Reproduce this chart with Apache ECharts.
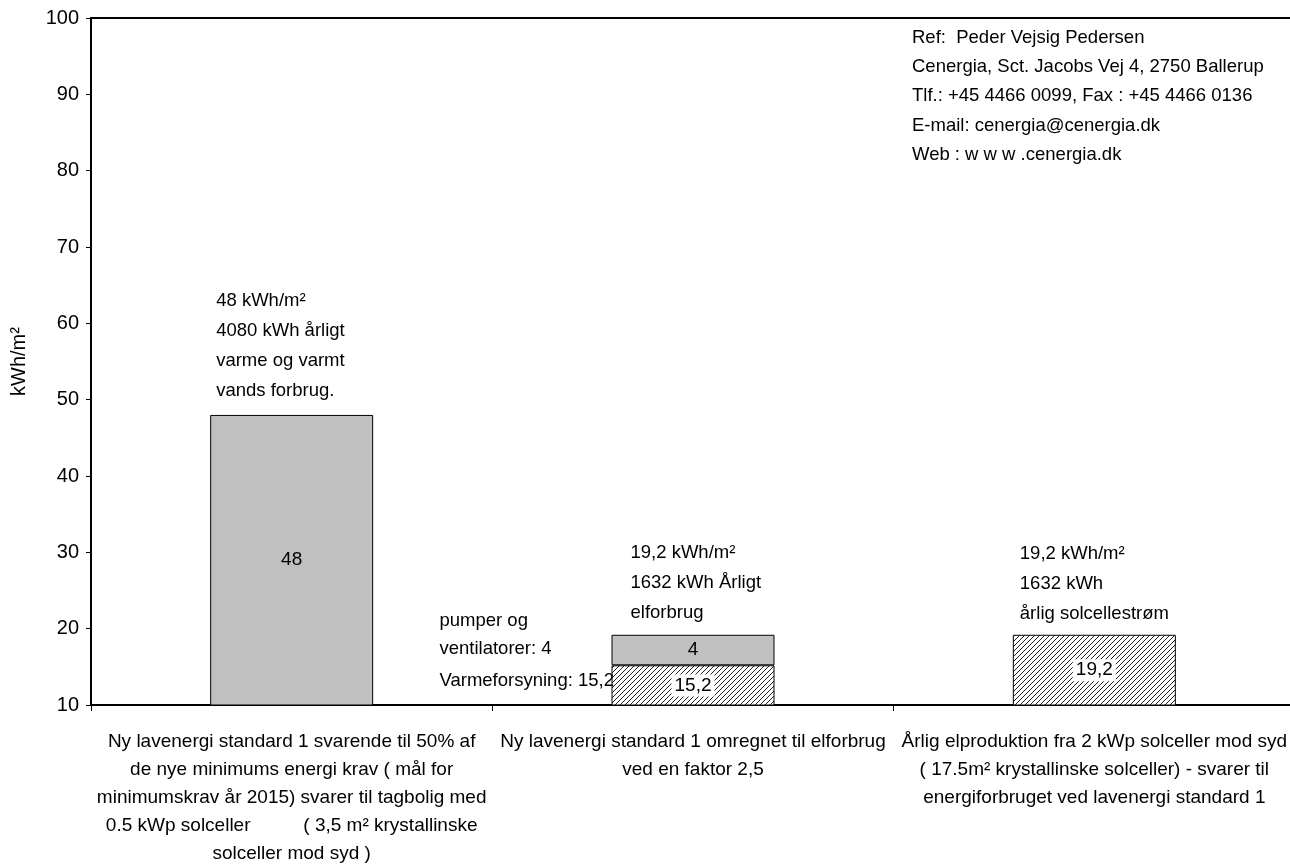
<!DOCTYPE html>
<html>
<head>
<meta charset="utf-8">
<script src="https://cdn.jsdelivr.net/npm/echarts@6/dist/echarts.min.js"></script>
<style>
  html, body { margin: 0; padding: 0; background: #fff; }
  #chart { width: 1290px; height: 867px; }
</style>
</head>
<body>
<div id="chart"></div>
<script>
// Categories shown along the x axis
const categories = [
  'Ny lavenergi standard 1 svarende til 50% af\nde nye minimums energi krav ( mål for\nminimumskrav år 2015) svarer til tagbolig med\n0.5 kWp solceller          ( 3,5 m² krystallinske\nsolceller mod syd )',
  'Ny lavenergi standard 1 omregnet til elforbrug\nved en faktor 2,5',
  'Årlig elproduktion fra 2 kWp solceller mod syd\n( 17.5m² krystallinske solceller) - svarer til\nenergiforbruget ved lavenergi standard 1'
];

// Hatched part: heat supply / solar electricity (kWh/m²)
const hatchedValues = [null, 15.2, 19.2];
// Grey part: heating + hot water / pumps and fans (kWh/m²)
const greyValues = [48, 4, null];

// y axis range and step
const yMin = 10, yMax = 100, yStep = 10;

// Text blocks above each bar
const barNotes = [
  ['48 kWh/m²', '4080 kWh årligt', 'varme og varmt', 'vands forbrug.'],
  ['19,2 kWh/m²', '1632 kWh Årligt', 'elforbrug'],
  ['19,2 kWh/m²', '1632 kWh', 'årlig solcellestrøm']
];
// Notes to the left of the stacked bar
const sideNotes = ['pumper og', 'ventilatorer: 4', 'Varmeforsyning: 15,2'];
// Reference block, upper right
const refLines = [
  'Ref:  Peder Vejsig Pedersen',
  'Cenergia, Sct. Jacobs Vej 4, 2750 Ballerup',
  'Tlf.: +45 4466 0099, Fax : +45 4466 0136',
  'E-mail: cenergia@cenergia.dk',
  'Web : w w w .cenergia.dk'
];

const FONT = '"Liberation Sans", Arial, sans-serif';
const NOTE_FONT = '18.5px ' + FONT;
const BAR_W = 163;

// Diagonal hatch pattern
function hatchCanvas() {
  const c = document.createElement('canvas');
  const s = 5;
  c.width = s; c.height = s;
  const g = c.getContext('2d');
  g.fillStyle = '#fff';
  g.fillRect(0, 0, s, s);
  g.strokeStyle = '#222';
  g.lineWidth = 1;
  g.beginPath();
  g.moveTo(-1, s + 1); g.lineTo(s + 1, -1);
  g.moveTo(-1, 1); g.lineTo(1, -1);
  g.moveTo(s - 1, s + 1); g.lineTo(s + 1, s - 1);
  g.stroke();
  return c;
}

const chart = echarts.init(document.getElementById('chart'), null, { renderer: 'canvas' });

const option = {
  backgroundColor: '#fff',
  animation: false,
  textStyle: { fontFamily: FONT, color: '#000' },
  grid: {
    left: 91, width: 1204, top: 18, bottom: 162,
    outerBoundsMode: 'none', containLabel: false,
    show: true, borderColor: '#000', borderWidth: 2, backgroundColor: 'transparent'
  },
  xAxis: {
    type: 'category',
    data: categories,
    axisLine: { lineStyle: { color: '#000', width: 2 } },
    axisTick: { show: true, length: 6, lineStyle: { color: '#000', width: 1 } },
    axisLabel: {
      interval: 0, margin: 23, fontSize: 19, lineHeight: 28,
      color: '#000', fontFamily: FONT, align: 'center'
    }
  },
  yAxis: {
    type: 'value',
    min: yMin, max: yMax, interval: yStep,
    name: 'kWh/m²',
    nameLocation: 'middle',
    nameGap: 62,
    nameTextStyle: { fontSize: 20, color: '#000', fontFamily: FONT },
    axisLine: { show: true, lineStyle: { color: '#000', width: 2 } },
    axisTick: { show: true, length: 5, lineStyle: { color: '#000', width: 1 } },
    axisLabel: { fontSize: 20, margin: 12, color: '#000', fontFamily: FONT },
    splitLine: { show: false }
  },
  series: [
    {
      name: 'Varmeforsyning',
      type: 'bar',
      stack: 'total',
      barWidth: BAR_W,
      data: hatchedValues,
      itemStyle: {
        color: { image: hatchCanvas(), repeat: 'repeat' },
        borderColor: '#000', borderWidth: 1
      },
      label: {
        show: true, position: 'inside', fontSize: 19, color: '#000',
        fontFamily: FONT, backgroundColor: '#fff', padding: [2, 3, 1, 3],
        formatter: p => String(p.value).replace('.', ',')
      }
    },
    {
      name: 'Forbrug',
      type: 'bar',
      stack: 'total',
      barWidth: BAR_W,
      data: greyValues,
      itemStyle: { color: '#c0c0c0', borderColor: '#000', borderWidth: 1 },
      label: {
        show: true, position: 'inside', fontSize: 19, color: '#000',
        fontFamily: FONT,
        formatter: p => String(p.value).replace('.', ',')
      }
    }
  ]
};

chart.setOption(option);

// Text annotations placed from the bars' data coordinates
function total(i) {
  return (hatchedValues[i] || 0) + (greyValues[i] || 0);
}
const noteOffsets = [{ dx: 6, dy: 9 }, { dx: 19, dy: 7 }, { dx: 7, dy: 6 }];
const graphics = [];

barNotes.forEach((lines, i) => {
  const top = chart.convertToPixel({ xAxisIndex: 0, yAxisIndex: 0 }, [i, total(i)]);
  graphics.push({
    type: 'text',
    left: top[0] - BAR_W / 2 + noteOffsets[i].dx,
    bottom: 867 - (top[1] - noteOffsets[i].dy),
    style: {
      text: lines.join('\n'), font: NOTE_FONT, fill: '#000',
      lineHeight: 30, align: 'left'
    }
  });
});

// Side notes aligned to the segments of the stacked bar
(function () {
  const i = 1;
  const base = chart.convertToPixel({ xAxisIndex: 0, yAxisIndex: 0 }, [i, yMin]);
  const hatchTop = chart.convertToPixel({ xAxisIndex: 0, yAxisIndex: 0 }, [i, hatchedValues[i]]);
  const greyTop = chart.convertToPixel({ xAxisIndex: 0, yAxisIndex: 0 }, [i, total(i)]);
  const x = base[0] - BAR_W / 2 - 172;
  const greyMid = (hatchTop[1] + greyTop[1]) / 2;
  const hatchMid = (base[1] + hatchTop[1]) / 2;
  const ys = [greyMid - 29, greyMid - 1, hatchMid - 4];
  sideNotes.forEach((t, k) => {
    graphics.push({
      type: 'text', x: x, y: ys[k], z: 10,
      style: { text: t, font: NOTE_FONT, fill: '#000', verticalAlign: 'middle', align: 'left' }
    });
  });
})();

graphics.push({
  type: 'text', left: 912, top: 23,
  style: { text: refLines.join('\n'), font: NOTE_FONT, fill: '#000', lineHeight: 29.3 }
});

chart.setOption({ graphic: graphics });
</script>
</body>
</html>
